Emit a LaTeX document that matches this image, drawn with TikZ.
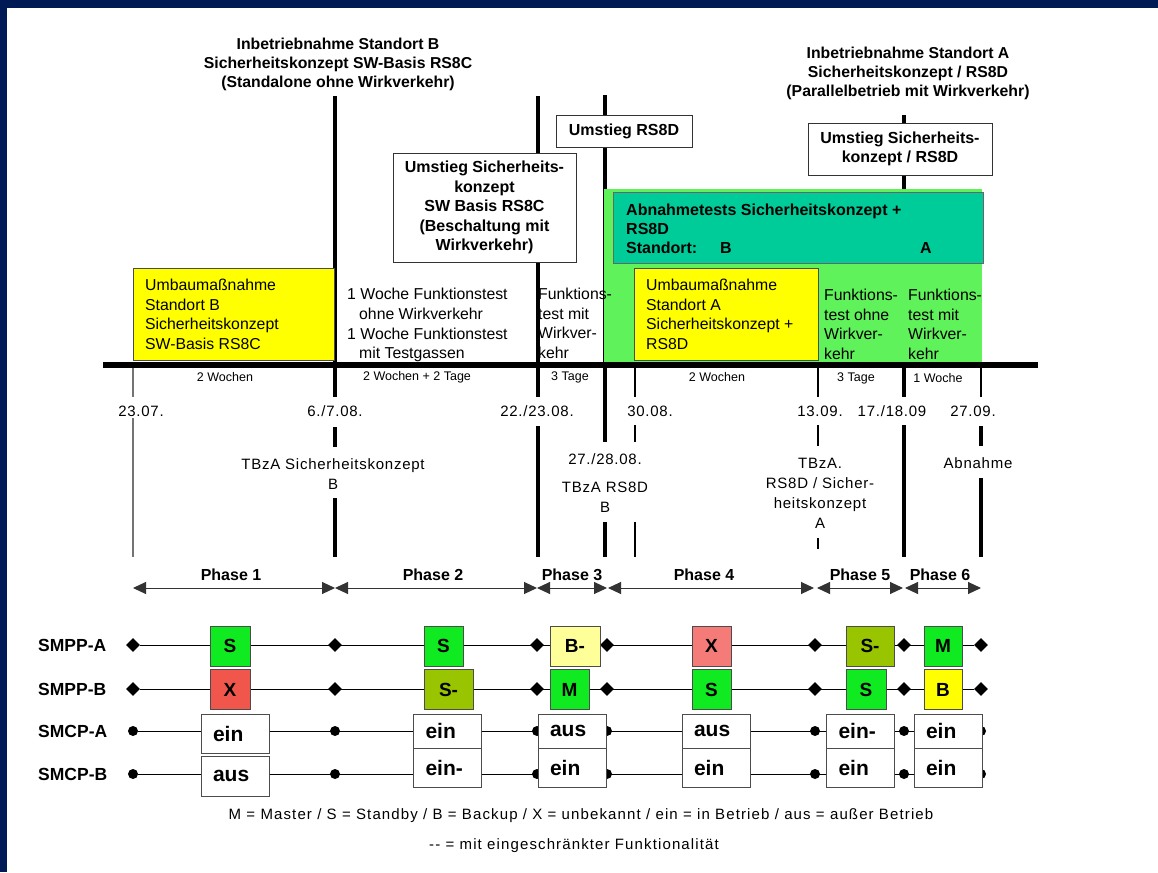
\documentclass[tikz,border=0pt]{standalone}
\usepackage{fontspec}
\setmainfont{Liberation Sans}
\usetikzlibrary{arrows.meta,shapes.geometric}

\definecolor{frameblue}{HTML}{001A55}
\definecolor{okgreen}{HTML}{10EA20}
\definecolor{litegreen}{HTML}{60F25A}
\definecolor{abngreen}{HTML}{00CC99}
\definecolor{olivegreen}{HTML}{99C400}
\definecolor{xred}{HTML}{F0564B}
\definecolor{xpink}{HTML}{F57B78}
\definecolor{paleyellow}{HTML}{FFFF99}
\definecolor{umbau}{HTML}{FFFF00}

\begin{document}
\begin{tikzpicture}[x=1pt, y=-1pt,
    every node/.style={inner sep=0pt},
    txt/.style={font=\fontsize{15.8}{19.5}\selectfont, align=left, anchor=north west},
    ttl/.style={font=\bfseries\fontsize{15.8}{19}\selectfont, align=center, anchor=north},
    datum/.style={font=\fontsize{15}{20}\selectfont\addfontfeatures{LetterSpace=5}, align=center},
    dauer/.style={font=\fontsize{12.5}{14}\selectfont},
    thickln/.style={line width=4pt},
    thinln/.style={line width=1.3pt},
    note/.style={draw=black!80, fill=white, line width=0.8pt, align=center,
      font=\bfseries\fontsize{16}{19.5}\selectfont},
    state/.style={draw=black!70, line width=0.8pt, minimum height=40pt,
      font=\bfseries\fontsize{19}{19}\selectfont},
    cell/.style={draw=black!70, fill=white, line width=0.8pt, text width=44pt,
      inner xsep=12pt, align=left, font=\bfseries\fontsize{21}{21}\selectfont},
    dia/.style={diamond, fill=black, minimum size=14pt},
    dot/.style={circle, fill=black, minimum size=10pt},
    phasearrow/.style={draw=black!80, line width=1pt,
      {Triangle[length=13pt,width=12pt]}-{Triangle[length=13pt,width=12pt]}},
    phaselbl/.style={font=\bfseries\fontsize{16}{16}\selectfont},
    rowlbl/.style={font=\bfseries\fontsize{17.5}{17}\selectfont, anchor=west}]

  % page and frame
  \useasboundingbox (0,0) rectangle (1158,872);
  \fill[white] (0,0) rectangle (1158,872);
  \fill[frameblue] (0,0) rectangle (1158,8);
  \fill[frameblue] (0,0) rectangle (7,872);

  % milestone lines
  \foreach \x/\a/\b in {335/96/397, 335/427/447, 335/498/557,
      538/96/397, 538/426/557, 605/95/442, 605/522/557,
      904/115/397, 904/425/557, 981/426/446, 981/478/557}
    \draw[thickln] (\x,\a) -- (\x,\b);
  \foreach \x/\a/\b in {635/365/397, 635/425/442, 635/522/557,
      818/365/397, 818/425/446, 818/538/549, 981/365/397}
    \draw[thinln] (\x,\a) -- (\x,\b);
  \draw[thinln, black!55] (133,365) -- (133,397);
  \draw[thinln, black!55] (133,418) -- (133,557);

  % acceptance area
  \fill[litegreen] (604,189) rectangle (982,365);
  \filldraw[fill=abngreen, draw=black!60, line width=0.8pt] (613,192) rectangle (983,263);
  \node[txt, font=\bfseries\fontsize{16}{19}\selectfont] (abn) at (626,204)
    {Abnahmetests Sicherheitskonzept +\\RS8D\\Standort:};
  \node[font=\bfseries\fontsize{16}{16}\selectfont] (abnB) at (726,248) {B};
  \node[font=\bfseries\fontsize{16}{16}\selectfont] (abnA) at (926,248) {A};

  % rebuild boxes
  \filldraw[fill=umbau, draw=black!70, line width=0.8pt] (133,268) rectangle (334,360);
  \filldraw[fill=umbau, draw=black!70, line width=0.8pt] (634,268) rectangle (818,360);
  \node[txt] (umbB) at (145,279)
    {Umbaumaßnahme\\Standort B\\Sicherheitskonzept\\SW-Basis RS8C};
  \node[txt] (umbA) at (646,279)
    {Umbaumaßnahme\\Standort A\\Sicherheitskonzept +\\RS8D};

  % changeover notes
  \node[note, minimum width=183pt, minimum height=109pt] (umsB) at (484.5,207.5)
    {Umstieg Sicherheits-\\konzept\\SW Basis RS8C\\(Beschaltung mit\\Wirkverkehr)};
  \node[note, minimum width=136pt, minimum height=32pt] (umsRS) at (624,131)
    {Umstieg RS8D};
  \node[note, minimum width=184pt, minimum height=52pt] (umsA) at (900,149)
    {Umstieg Sicherheits-\\konzept / RS8D};

  % commissioning titles
  \node[ttl] (ibnB) at (338,38)
    {Inbetriebnahme Standort B\\Sicherheitskonzept SW-Basis RS8C\\(Standalone ohne Wirkverkehr)};
  \node[ttl] (ibnA) at (908,47)
    {Inbetriebnahme Standort A\\Sicherheitskonzept / RS8D\\(Parallelbetrieb mit Wirkverkehr)};

  % test notes
  \node[txt] (ft1) at (347,288) {1 Woche Funktionstest};
  \node[txt] (ft2) at (359,308) {ohne Wirkverkehr};
  \node[txt] (ft3) at (347,328) {1 Woche Funktionstest};
  \node[txt] (ft4) at (359,347) {mit Testgassen};
  \node[txt] (ftB) at (538,288) {Funktions-\\test mit\\Wirkver-\\kehr};
  \node[txt] (ftA1) at (824,289) {Funktions-\\test ohne\\Wirkver-\\kehr};
  \node[txt] (ftA2) at (908,289) {Funktions-\\test mit\\Wirkver-\\kehr};

  % time axis
  \coordinate (tl0) at (103,365);
  \coordinate (tl1) at (1038,365);
  \draw[line width=6pt] (tl0) -- (tl1);

  % durations
  \node[dauer] (d1) at (225,377) {2 Wochen};
  \node[dauer] (d2) at (417,377) {2 Wochen + 2 Tage};
  \node[dauer] (d3) at (570,377) {3 Tage};
  \node[dauer] (d4) at (717,377) {2 Wochen};
  \node[dauer] (d5) at (856,378) {3 Tage};
  \node[dauer] (d6) at (938,378) {1 Woche};

  % dates
  \foreach \x/\t [count=\i] in {141/{23.07.}, 335/{6./7.08.}, 537/{22./23.08.},
      650/{30.08.}, 820/{13.09.}, 892/{17./18.09}, 973/{27.09.}}
    \node[datum] (dt\i) at (\x,411) {\t};
  \node[datum] (dt8) at (605,459) {27./28.08.};

  % acceptances
  \node[datum, anchor=north] (tbzB) at (333,458) {TBzA Sicherheitskonzept\\B};
  \node[datum, anchor=north] (tbzRS) at (605,482) {TBzA RS8D\\B};
  \node[datum, anchor=north] (tbzA) at (820,458) {TBzA.\\RS8D / Sicher-\\heitskonzept\\A};
  \node[datum] (abnahme) at (978,463) {Abnahme};

  % phases
  \foreach \a/\b/\c/\n in {133/335/231/1, 335/537/433/2, 537/607/572/3,
      608/814/704/4, 817/903/860/5, 905/981/940/6} {
    \coordinate (ph\n a) at (\a,588);
    \coordinate (ph\n b) at (\b,588);
    \draw[phasearrow] (ph\n a) -- (ph\n b);
    \node[phaselbl] (ph\n) at (\c,575) {Phase \n};
  }

  % row labels
  \node[rowlbl] (lpa) at (38,645) {SMPP-A};
  \node[rowlbl] (lpb) at (38,689) {SMPP-B};
  \node[rowlbl] (lca) at (38,731) {SMCP-A};
  \node[rowlbl] (lcb) at (38,774) {SMCP-B};

  % row markers and lines
  \foreach \x [count=\i] in {133,335,537,607,815,904,981} {
    \node[dia] (pa\i) at (\x,645) {};
    \node[dia] (pb\i) at (\x,689) {};
    \node[dot] (ca\i) at (\x,731) {};
    \node[dot] (cb\i) at (\x,774) {};
  }
  \draw (pa1) -- (pa7);
  \draw (pb1) -- (pb7);
  \draw (ca1) -- (ca7);
  \draw (cb1) -- (cb7);

  % SMPP states
  \node[state, fill=okgreen, minimum width=40pt] (sa1) at (230,646) {S};
  \node[state, fill=xred, minimum width=40pt] (sb1) at (230,689.5) {X};
  \node[state, fill=okgreen, minimum width=39pt] (sa2) at (443.5,646) {S};
  \node[state, fill=olivegreen, minimum width=49pt] (sb2) at (448.5,689.5) {S-};
  \node[state, fill=paleyellow, minimum width=50pt] (sa3) at (575,646) {B-};
  \node[state, fill=okgreen, minimum width=39pt] (sb3) at (569.5,689.5) {M};
  \node[state, fill=xpink, minimum width=39pt] (sa4) at (711.5,646) {X};
  \node[state, fill=okgreen, minimum width=39pt] (sb4) at (711.5,689.5) {S};
  \node[state, fill=olivegreen, minimum width=48pt] (sa5) at (870,646) {S-};
  \node[state, fill=okgreen, minimum width=40pt] (sb5) at (866,689.5) {S};
  \node[state, fill=okgreen, minimum width=38pt] (sa6) at (943,646) {M};
  \node[state, fill=umbau, minimum width=38pt] (sb6) at (943,689.5) {B};

  % SMCP states
  \node[cell, minimum height=39pt] (ka1) at (235,733.5) {ein};
  \node[cell, minimum height=40pt] (kb1) at (235,776) {aus};
  \foreach \x/\u/\l [count=\i from 2] in {447.5/ein/ein-, 572/aus/ein, 716/aus/ein,
      860.5/ein-/ein, 948/ein/ein} {
    \node[cell, minimum height=34pt] (ka\i) at (\x,731) {\u};
    \node[cell, minimum height=39pt] (kb\i) at (\x,767.5) {\l};
  }

  % legend
  \node[font=\fontsize{15}{16}\selectfont\addfontfeatures{LetterSpace=7.5}] (leg1) at (581,816)
    {M = Master / S = Standby / B = Backup / X = unbekannt / ein = in Betrieb / aus = außer Betrieb};
  \node[font=\fontsize{15}{16}\selectfont\addfontfeatures{LetterSpace=7.5}] (leg2) at (574,846)
    {-{}- = mit eingeschränkter Funktionalität};
\end{tikzpicture}
\end{document}
